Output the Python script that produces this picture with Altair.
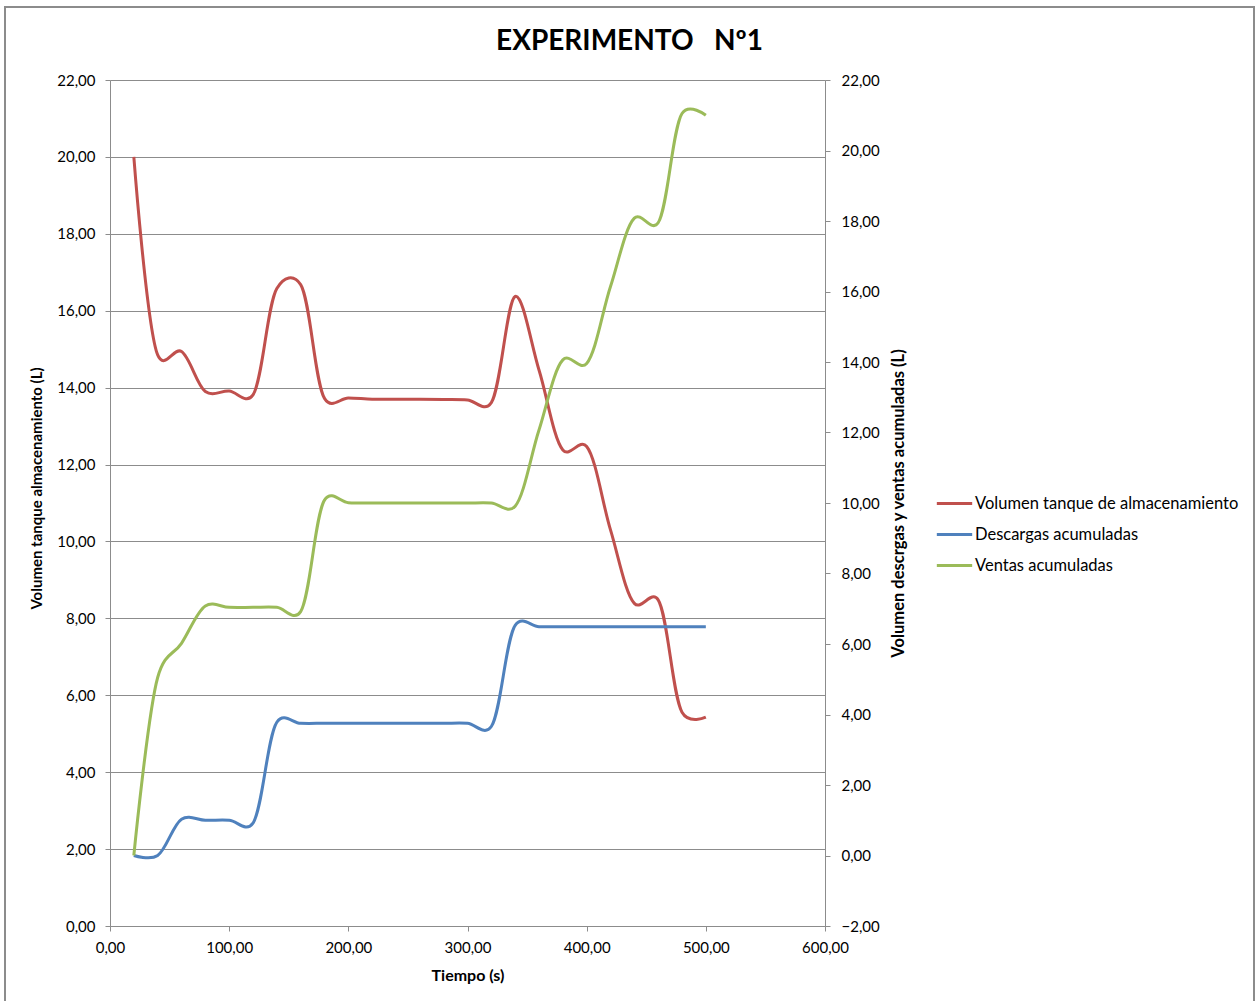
import altair as alt
import pandas as pd

tiempo = [20, 40, 60, 80, 100, 120, 140, 160, 180, 200, 220, 240, 260,
          280, 300, 320, 340, 360, 380, 400, 420, 440, 460, 480, 500]
volumen = [20.0, 14.85, 14.94, 13.90, 13.91, 13.81, 16.58, 16.68, 13.72, 13.73,
           13.70, 13.70, 13.70, 13.69, 13.68, 13.61, 16.37, 14.46, 12.38, 12.47,
           10.30, 8.39, 8.48, 5.56, 5.43]
descargas = [0.0, 0.0, 1.03, 1.0, 1.0, 0.92, 3.78, 3.75, 3.75, 3.75,
             3.75, 3.75, 3.75, 3.75, 3.75, 3.66, 6.53, 6.49, 6.49, 6.49,
             6.49, 6.49, 6.49, 6.49, 6.49]
ventas = [0.0, 5.05, 6.02, 7.08, 7.04, 7.04, 7.04, 6.92, 10.08, 10.01,
          10.0, 10.0, 10.0, 10.0, 10.0, 10.0, 9.91, 12.07, 14.06, 13.96,
          16.14, 18.08, 17.95, 21.05, 21.0]

series = ["Volumen tanque de almacenamiento", "Descargas acumuladas", "Ventas acumuladas"]
colores = ["#C0504D", "#4F81BD", "#9BBB59"]

df_left = pd.DataFrame({"tiempo": tiempo, "valor": volumen, "serie": series[0]})
df_right = pd.concat([
    pd.DataFrame({"tiempo": tiempo, "valor": descargas, "serie": series[1]}),
    pd.DataFrame({"tiempo": tiempo, "valor": ventas, "serie": series[2]}),
])

FONT = "Lato"
grid_c = "#8C8C8C"
lab_expr = "replace(format(datum.value, '.2f'), '.', ',')"
INTERP = "catmull-rom"
TENSION = 0.2

color = alt.Color(
    "serie:N",
    scale=alt.Scale(domain=series, range=colores),
    legend=alt.Legend(
        title=None, orient="none", legendX=825, legendY=404,
        symbolType="stroke", symbolSize=1250, symbolStrokeWidth=3,
        labelFontSize=16.5, labelFont=FONT, labelColor="#000000",
        rowPadding=3, labelOffset=1, labelLimit=400,
    ),
)

x_enc = alt.X(
    "tiempo:Q",
    scale=alt.Scale(domain=[0, 600], nice=False),
    axis=alt.Axis(
        values=[0, 100, 200, 300, 400, 500, 600], labelExpr=lab_expr,
        title="Tiempo (s)", grid=False, tickSize=5, tickColor=grid_c,
        domainColor=grid_c, labelFontSize=15, labelFont=FONT,
        labelColor="#000000", titleFontSize=16, titleFont=FONT,
        titleFontWeight="bold", titleColor="#000000", labelPadding=9,
        titlePadding=12, labelFlush=False,
    ),
)

left = alt.Chart(df_left).mark_line(
    interpolate=INTERP, tension=TENSION, strokeWidth=3
).encode(
    x=x_enc,
    y=alt.Y(
        "valor:Q",
        scale=alt.Scale(domain=[0, 22], nice=False),
        axis=alt.Axis(
            values=list(range(0, 23, 2)), labelExpr=lab_expr,
            title="Volumen tanque almacenamiento (L)", grid=True,
            gridColor=grid_c, gridWidth=1, tickSize=5, tickColor=grid_c,
            domainColor=grid_c, labelFontSize=15, labelFont=FONT,
            labelColor="#000000", titleFontSize=15, titleFont=FONT,
            titleFontWeight="bold", titleColor="#000000", labelPadding=10,
            titlePadding=12, titleY=408,
        ),
    ),
    color=color,
)

right = alt.Chart(df_right).mark_line(
    interpolate=INTERP, tension=TENSION, strokeWidth=3
).encode(
    x=x_enc,
    y=alt.Y(
        "valor:Q",
        scale=alt.Scale(domain=[-2, 22], nice=False),
        axis=alt.Axis(
            orient="right", values=list(range(-2, 23, 2)), labelExpr=lab_expr,
            title="Volumen descrgas y ventas acumuladas (L)", grid=False,
            tickSize=5, tickColor=grid_c, domainColor=grid_c,
            labelFontSize=15, labelFont=FONT, labelColor="#000000",
            titleFontSize=16.5, titleFont=FONT, titleFontWeight="bold",
            titleColor="#000000", labelPadding=11, titlePadding=27,
            titleAngle=270,
        ),
    ),
    color=color,
)

frame = alt.Chart(pd.DataFrame({"a": [0]})).mark_rect(
    filled=False, stroke="#8C8C8C", strokeWidth=2
).encode(
    x=alt.value(-105), x2=alt.value(1144), y=alt.value(-73), y2=alt.value(930)
)

chart = alt.layer(frame, left, right).resolve_scale(y="independent").properties(
    width=715,
    height=846,
    autosize=alt.AutoSizeParams(type="none"),
    padding={"left": 110, "top": 80, "right": 434, "bottom": 75},
    title=alt.Title(
        "EXPERIMENTO\u00a0\u00a0\u00a0Nº1", fontSize=28, font=FONT, fontWeight="bold",
        color="#000000", anchor="middle", dx=162, offset=-50,
    ),
).configure_view(stroke=None).configure(background="#FFFFFF")

chart.save("out.html", embed_options={"renderer": "svg", "actions": False})
